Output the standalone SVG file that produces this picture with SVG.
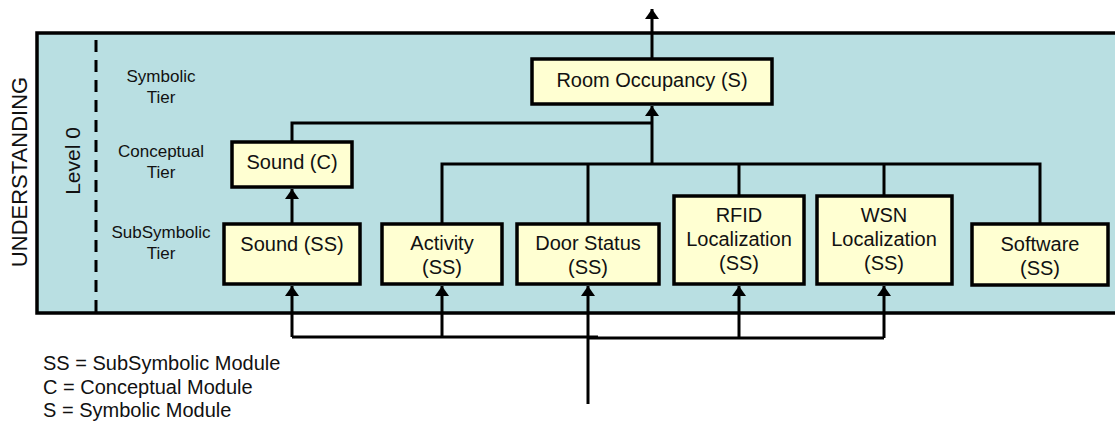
<svg xmlns="http://www.w3.org/2000/svg" width="1115" height="422" viewBox="0 0 1115 422">
<style>
.t{font-family:"Liberation Sans",Arial,sans-serif;fill:#111}
.box{fill:#FFFFD2;stroke:#000;stroke-width:3.5}
.bl{font-size:20px;text-anchor:middle}
.tier{font-size:17px;text-anchor:middle}
.ln{fill:none;stroke:#000;stroke-width:3}
</style>
<defs>
<marker id="ah" markerUnits="userSpaceOnUse" markerWidth="16" markerHeight="12" viewBox="0 0 16 12" refX="8" refY="2" orient="auto-start-reverse">
<path d="M1,11 L8,1 L15,11 Z" fill="#000"/>
</marker>
<marker id="up" markerUnits="userSpaceOnUse" markerWidth="16" markerHeight="12" viewBox="0 0 16 12" refX="8" refY="1" orient="0">
<path d="M1,11 L8,1 L15,11 Z" fill="#000"/>
</marker>
</defs>
<rect width="1115" height="422" fill="#fff"/>
<g id="frame">
<rect x="37" y="33" width="1090" height="280" fill="#B9DFE2" stroke="#000" stroke-width="3.5"/>
<line x1="96" y1="40" x2="96" y2="313" stroke="#000" stroke-width="3" stroke-dasharray="12,8"/>
<text class="t" font-size="22" transform="translate(27,172) rotate(-90)" text-anchor="middle">UNDERSTANDING</text>
<text class="t" font-size="21" transform="translate(80,161) rotate(-90)" text-anchor="middle">Level 0</text>
<text class="t tier" x="161" y="82">Symbolic</text>
<text class="t tier" x="161" y="103">Tier</text>
<text class="t tier" x="161" y="157">Conceptual</text>
<text class="t tier" x="161" y="178">Tier</text>
<text class="t tier" x="161" y="238">SubSymbolic</text>
<text class="t tier" x="161" y="259">Tier</text>
</g>
<g id="connectors">
<line class="ln" x1="652" y1="59" x2="652" y2="9" marker-end="url(#up)"/>
<line class="ln" x1="652" y1="164" x2="652" y2="106" stroke-width="4.5" marker-end="url(#up)"/>
<polyline class="ln" points="292,142 292,123 652,123"/>
<line class="ln" x1="292" y1="224" x2="292" y2="189" marker-end="url(#up)"/>
<polyline class="ln" points="442,224 442,164 1040,164 1040,224"/>
<line class="ln" x1="588" y1="164" x2="588" y2="224"/>
<line class="ln" x1="739" y1="164" x2="739" y2="196"/>
<line class="ln" x1="884" y1="164" x2="884" y2="196"/>
<line class="ln" x1="292" y1="337" x2="292" y2="286" marker-end="url(#up)"/>
<line class="ln" x1="442" y1="337" x2="442" y2="286" marker-end="url(#up)"/>
<line class="ln" x1="588" y1="404" x2="588" y2="286" marker-end="url(#up)"/>
<line class="ln" x1="739" y1="338" x2="739" y2="286" marker-end="url(#up)"/>
<line class="ln" x1="884" y1="338" x2="884" y2="286" marker-end="url(#up)"/>
<polyline class="ln" points="292,337 598,337"/>
<polyline class="ln" points="588,338 884,338"/>
</g>
<g id="room-occupancy">
<rect class="box" x="532" y="59" width="240" height="45"/>
<text class="t bl" x="652" y="87">Room Occupancy (S)</text>
</g>
<g id="sound-c">
<rect class="box" x="232" y="142" width="120" height="45"/>
<text class="t bl" x="292" y="169">Sound (C)</text>
</g>
<g id="sound-ss">
<rect class="box" x="224" y="224" width="136" height="60"/>
<text class="t bl" x="292" y="251">Sound (SS)</text>
</g>
<g id="activity">
<rect class="box" x="382" y="224" width="120" height="60"/>
<text class="t bl" x="442" y="250">Activity</text>
<text class="t bl" x="442" y="274">(SS)</text>
</g>
<g id="door-status">
<rect class="box" x="517" y="224" width="142" height="60"/>
<text class="t bl" x="588" y="250">Door Status</text>
<text class="t bl" x="588" y="274">(SS)</text>
</g>
<g id="rfid">
<rect class="box" x="674" y="196" width="130" height="88"/>
<text class="t bl" x="739" y="222">RFID</text>
<text class="t bl" x="739" y="246">Localization</text>
<text class="t bl" x="739" y="270">(SS)</text>
</g>
<g id="wsn">
<rect class="box" x="817" y="196" width="135" height="88"/>
<text class="t bl" x="884" y="222">WSN</text>
<text class="t bl" x="884" y="246">Localization</text>
<text class="t bl" x="884" y="270">(SS)</text>
</g>
<g id="software">
<rect class="box" x="972" y="224" width="136" height="61"/>
<text class="t bl" x="1040" y="251">Software</text>
<text class="t bl" x="1040" y="275">(SS)</text>
</g>
<g id="legend">
<text class="t" font-size="20" x="43" y="370">SS = SubSymbolic Module</text>
<text class="t" font-size="20" x="43" y="394">C = Conceptual Module</text>
<text class="t" font-size="20" x="43" y="417">S = Symbolic Module</text>
</g>
</svg>
